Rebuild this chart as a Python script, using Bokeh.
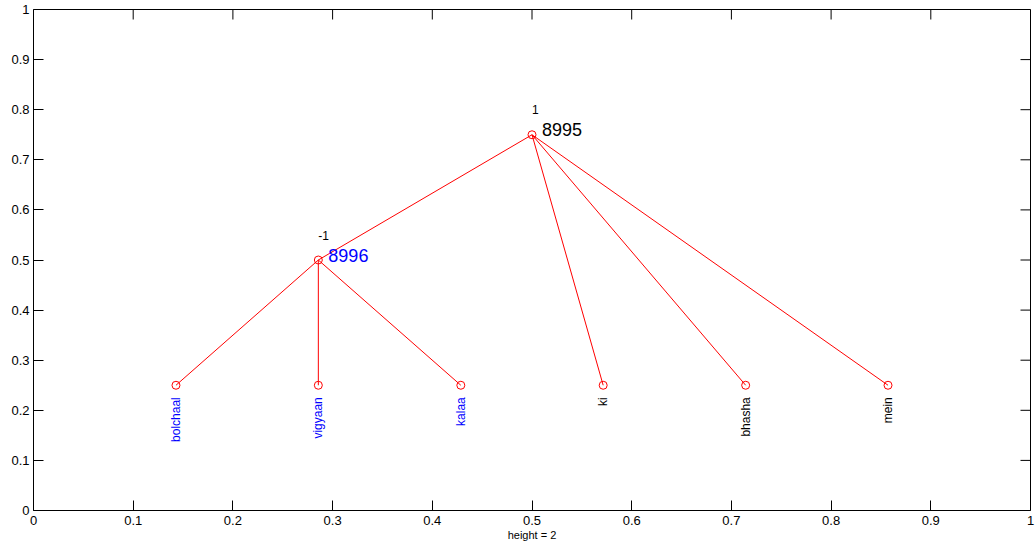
import math
from bokeh.plotting import figure
from bokeh.models import ColumnDataSource, FixedTicker, Range1d
from bokeh.core.properties import value
from bokeh.embed import file_html
from bokeh.resources import INLINE

# ---- data ----
node_names = ["8995", "8996", "bolchaal", "vigyaan", "kalaa", "ki", "bhasha", "mein"]
node_x = [0.5, 0.2857, 0.1429, 0.2857, 0.4286, 0.5714, 0.7143, 0.8571]
node_y = [0.75, 0.5, 0.25, 0.25, 0.25, 0.25, 0.25, 0.25]
node_parent = [-1, 0, 1, 1, 1, 0, 0, 0]
node_colors = ["black", "blue", "blue", "blue", "blue", "black", "black", "black"]
internal_nodes = [0, 1]
internal_signs = ["1", "-1"]
leaf_nodes = [2, 3, 4, 5, 6, 7]

x_ticks = [0, 0.1, 0.2, 0.3, 0.4, 0.5, 0.6, 0.7, 0.8, 0.9, 1]
x_tick_labels = ["0", "0.1", "0.2", "0.3", "0.4", "0.5", "0.6", "0.7", "0.8", "0.9", "1"]
y_ticks = [0, 0.1, 0.2, 0.3, 0.4, 0.5, 0.6, 0.7, 0.8, 0.9, 1]
y_tick_labels = ["0", "0.1", "0.2", "0.3", "0.4", "0.5", "0.6", "0.7", "0.8", "0.9", "1"]
x_label = "height = 2"

FONT = "Liberation Sans"

p = figure(width=1035, height=548, output_backend="svg", toolbar_location=None,
           x_range=Range1d(0, 1), y_range=Range1d(0, 1),
           min_border_left=33, min_border_right=5, min_border_top=9, min_border_bottom=38)
p.grid.visible = False
p.outline_line_color = "black"
p.outline_line_width = 1
p.background_fill_color = "white"
p.border_fill_color = "white"

for ax in (p.xaxis[0], p.yaxis[0]):
    ax.major_tick_in = 10
    ax.major_tick_out = 0
    ax.minor_tick_line_color = None
    ax.axis_line_color = None
    ax.major_tick_line_color = "black"
    ax.major_label_text_font = FONT
    ax.major_label_text_font_size = "13px"
    ax.major_label_text_color = "black"
p.xaxis[0].ticker = FixedTicker(ticks=x_ticks)
p.yaxis[0].ticker = FixedTicker(ticks=y_ticks)
p.xaxis[0].major_label_overrides = dict(zip(x_ticks, x_tick_labels))
p.yaxis[0].major_label_overrides = dict(zip(y_ticks, y_tick_labels))
p.xaxis[0].major_label_standoff = 5
p.yaxis[0].major_label_standoff = 4
p.xaxis[0].axis_label = x_label
p.xaxis[0].axis_label_text_font = FONT
p.xaxis[0].axis_label_text_font_size = "11px"
p.xaxis[0].axis_label_text_font_style = "normal"
p.xaxis[0].axis_label_text_color = "black"
p.xaxis[0].axis_label_standoff = 1

# mirrored ticks on top and right edges (10 px inward)
p.ray(x=x_ticks, y=[1] * len(x_ticks), length=10, length_units="screen",
      angle=-math.pi / 2, line_color="black", line_width=1)
p.ray(x=[1] * len(y_ticks), y=y_ticks, length=10, length_units="screen",
      angle=math.pi, line_color="black", line_width=1)

# ---- edges ----
edges = ColumnDataSource(dict(
    x0=[node_x[node_parent[i]] for i in range(len(node_x)) if node_parent[i] >= 0],
    y0=[node_y[node_parent[i]] for i in range(len(node_x)) if node_parent[i] >= 0],
    x1=[node_x[i] for i in range(len(node_x)) if node_parent[i] >= 0],
    y1=[node_y[i] for i in range(len(node_x)) if node_parent[i] >= 0],
))
p.segment("x0", "y0", "x1", "y1", source=edges, line_color="#ff0000", line_width=1)

# ---- nodes ----
p.scatter(node_x, node_y, marker="circle", size=8, fill_color=None,
          line_color="#ff0000", line_width=1)

# ---- internal labels ----
isrc = ColumnDataSource(dict(
    x=[node_x[i] for i in internal_nodes],
    y=[node_y[i] for i in internal_nodes],
    name=[node_names[i] for i in internal_nodes],
    color=[node_colors[i] for i in internal_nodes],
    sign=internal_signs,
))
p.text("x", "y", text="name", source=isrc, text_color="color",
       text_font=value(FONT), text_font_size="18px",
       text_align="left", text_baseline="middle", x_offset=10, y_offset=-5)
p.text("x", "y", text="sign", source=isrc, text_color="black",
       text_font=value(FONT), text_font_size="12px",
       text_align="left", text_baseline="middle", x_offset=0, y_offset=-25)

# ---- leaf labels ----
lsrc = ColumnDataSource(dict(
    x=[node_x[i] for i in leaf_nodes],
    y=[node_y[i] for i in leaf_nodes],
    name=[node_names[i] for i in leaf_nodes],
    color=[node_colors[i] for i in leaf_nodes],
))
p.text("x", "y", text="name", source=lsrc, text_color="color",
       text_font=value(FONT), text_font_size="12px", angle=math.pi / 2,
       text_align="right", text_baseline="middle", x_offset=0, y_offset=12)

open("out.html", "w").write(file_html(p, INLINE))
